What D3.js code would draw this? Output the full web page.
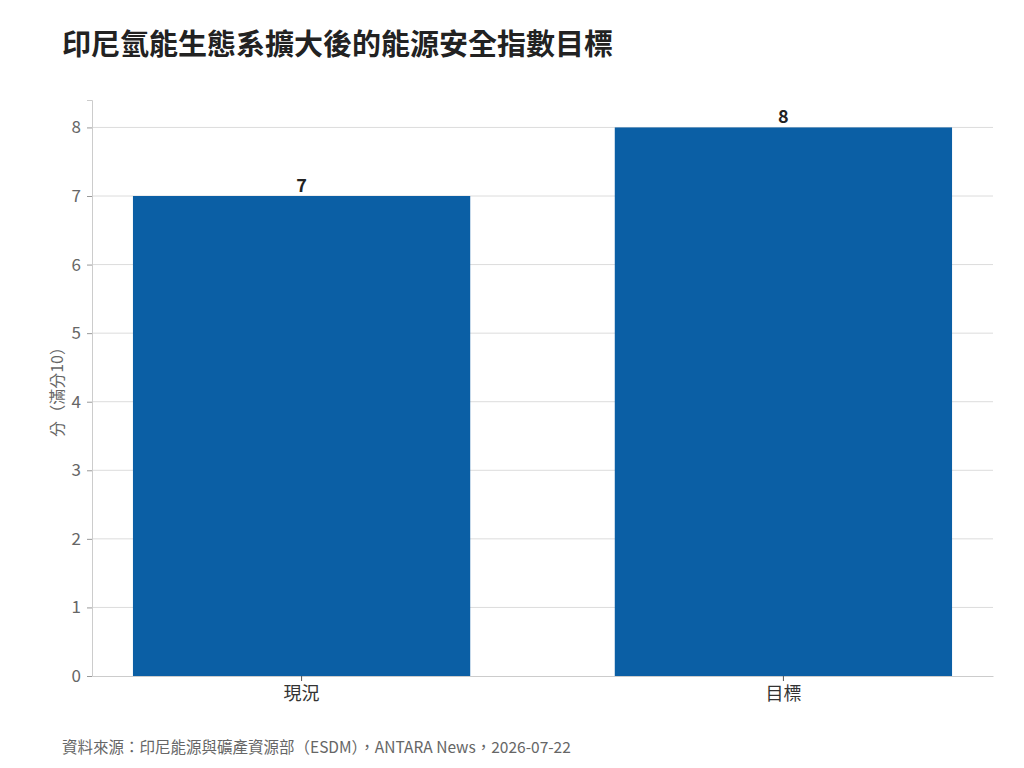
<!DOCTYPE html>
<html>
<head>
<meta charset="utf-8">
<script src="https://cdn.jsdelivr.net/npm/d3@7"></script>
<style>
  body { margin: 0; background: #fff; }
  svg { font-family: "Noto Sans CJK TC", "Noto Sans", sans-serif; }
</style>
</head>
<body>
<svg width="1024" height="768"></svg>
<script>
const categories = ["現況", "目標"]
const values = [7, 8]
const yTicks = [0, 1, 2, 3, 4, 5, 6, 7, 8]

const svg = d3.select("svg")
const margin = { top: 100, right: 31, bottom: 92, left: 92 }
const width = 1024 - margin.left - margin.right
const height = 768 - margin.top - margin.bottom

// title
svg.append("text")
  .attr("x", 62)
  .attr("y", 55)
  .attr("font-size", 29)
  .attr("font-weight", "bold")
  .attr("fill", "#222")
  .text("印尼氫能生態系擴大後的能源安全指數目標")

const g = svg.append("g")
  .attr("transform", "translate(" + margin.left + "," + margin.top + ")")

const x = d3.scaleBand()
  .domain(categories)
  .range([0, width])
  .paddingInner(0.3)
  .paddingOuter(0.085)

const y = d3.scaleLinear()
  .domain([0, 8.4])
  .range([height, 0])

// grid
g.append("g")
  .selectAll("line")
  .data(yTicks.slice(1))
  .enter().append("line")
  .attr("x1", 0)
  .attr("x2", width)
  .attr("y1", d => y(d))
  .attr("y2", d => y(d))
  .attr("stroke", "#dcdcdc")
  .attr("stroke-width", 1)

// bars
g.append("g")
  .selectAll("rect")
  .data(values)
  .enter().append("rect")
  .attr("x", (d, i) => x(categories[i]))
  .attr("y", d => y(d))
  .attr("width", x.bandwidth())
  .attr("height", d => height - y(d))
  .attr("fill", "#0b5fa5")

// value labels
g.append("g")
  .selectAll("text")
  .data(values)
  .enter().append("text")
  .attr("x", (d, i) => x(categories[i]) + x.bandwidth() / 2)
  .attr("y", d => y(d) - 4)
  .attr("text-anchor", "middle")
  .attr("font-size", 18)
  .attr("font-weight", "bold")
  .attr("fill", "#222")
  .text(d => d)

// y axis
const yAxis = g.append("g")
  .call(d3.axisLeft(y).tickValues(yTicks).tickSize(5).tickPadding(6))
yAxis.select(".domain").attr("stroke", "#cccccc")
yAxis.selectAll(".tick line").attr("stroke", "#999")
yAxis.selectAll(".tick text")
  .attr("font-size", 17)
  .attr("fill", "#666")
  .attr("font-family", "Noto Sans CJK TC, sans-serif")

// x axis
const xAxis = g.append("g")
  .attr("transform", "translate(0," + height + ")")
  .call(d3.axisBottom(x).tickSize(5).tickSizeOuter(0).tickPadding(6))
xAxis.select(".domain").attr("stroke", "#cccccc")
xAxis.selectAll(".tick line").attr("stroke", "#555")
xAxis.selectAll(".tick text")
  .attr("font-size", 18)
  .attr("fill", "#333")
  .attr("font-family", "Noto Sans CJK TC, sans-serif")

// y label
svg.append("text")
  .attr("transform", "translate(63," + (margin.top + height / 2) + ") rotate(-90)")
  .attr("text-anchor", "middle")
  .attr("font-size", 16)
  .attr("fill", "#666")
  .text("分（滿分10）")

// source
svg.append("text")
  .attr("x", 62)
  .attr("y", 753)
  .attr("font-size", 15.5)
  .attr("fill", "#666")
  .text("資料來源：印尼能源與礦產資源部（ESDM），ANTARA News，2026-07-22")
</script>
</body>
</html>
